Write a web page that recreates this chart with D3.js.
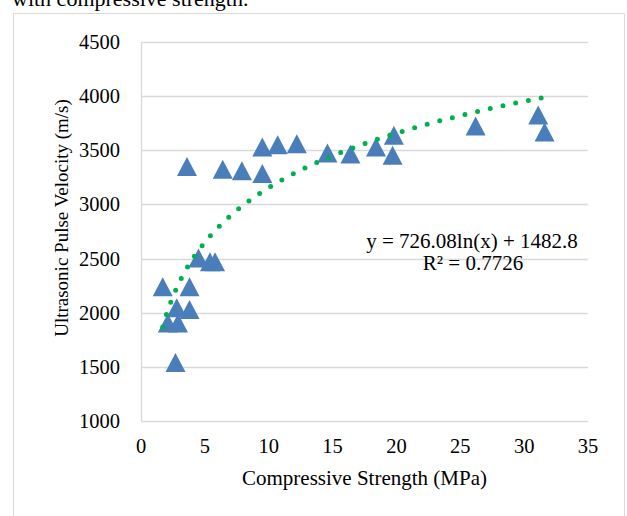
<!DOCTYPE html>
<html>
<head>
<meta charset="utf-8">
<script src="https://cdn.jsdelivr.net/npm/d3@7"></script>
<style>
  body { margin: 0; background: #fff; }
  svg text { font-family: "Liberation Serif", "Times New Roman", serif; fill: #000; }
</style>
</head>
<body>
<div id="chart"></div>
<script>
// compressive strength (MPa) vs ultrasonic pulse velocity (m/s)
const strength = [1.7, 3.6, 2.7, 2.1, 2.9, 2.8, 3.8, 3.8, 4.5, 5.4, 5.8, 6.4, 7.9, 9.5, 9.5, 10.7, 12.2, 14.6, 16.4, 18.4, 19.8, 19.7, 26.2, 31.1, 31.6];
const velocity = [2240, 3350, 1540, 1905, 1905, 2045, 2030, 2240, 2505, 2470, 2470, 3325, 3310, 3285, 3530, 3550, 3560, 3475, 3465, 3530, 3640, 3455, 3725, 3825, 3670];
const xTicks = [0, 5, 10, 15, 20, 25, 30, 35];
const yTicks = [1000, 1500, 2000, 2500, 3000, 3500, 4000, 4500];
const fitA = 726.08, fitB = 1482.8;

const W = 627, H = 516;
const svg = d3.select("#chart").append("svg")
    .attr("width", W)
    .attr("height", H);

// caption line cut off by the crop
svg.append("text")
    .attr("x", 12).attr("y", 6)
    .style("font-size", "22px")
    .text("with compressive strength.");

// chart area border
svg.append("rect")
    .attr("x", 13.5).attr("y", 13.5)
    .attr("width", 611).attr("height", 520)
    .attr("fill", "none")
    .attr("stroke", "#d9d9d9");

let x = d3.scaleLinear().domain([0, 35]).range([141, 588]);
let y = d3.scaleLinear().domain([1000, 4500]).range([421, 42]);

// gridlines
svg.append("g").selectAll("line")
    .data(yTicks)
    .enter().append("line")
    .attr("x1", x(0)).attr("x2", x(35))
    .attr("y1", d => Math.round(y(d)) + 0.5)
    .attr("y2", d => Math.round(y(d)) + 0.5)
    .attr("stroke", "#d9d9d9")
    .attr("stroke-width", 1.3);

// left axis line
svg.append("line")
    .attr("x1", x(0) + 0.5).attr("x2", x(0) + 0.5)
    .attr("y1", y(4500)).attr("y2", y(1000))
    .attr("stroke", "#d9d9d9")
    .attr("stroke-width", 1.3);

// tick labels
svg.append("g").selectAll("text")
    .data(yTicks)
    .enter().append("text")
    .attr("x", 120)
    .attr("y", d => y(d) + 7)
    .attr("text-anchor", "end")
    .style("font-size", "20.5px")
    .text(d => d);

svg.append("g").selectAll("text")
    .data(xTicks)
    .enter().append("text")
    .attr("x", d => x(d))
    .attr("y", 453)
    .attr("text-anchor", "middle")
    .style("font-size", "20.5px")
    .text(d => d);

// axis titles
svg.append("text")
    .attr("x", (x(0) + x(35)) / 2)
    .attr("y", 485)
    .attr("text-anchor", "middle")
    .style("font-size", "21px")
    .text("Compressive Strength (MPa)");

svg.append("text")
    .attr("transform", "translate(68,218) rotate(-90)")
    .attr("text-anchor", "middle")
    .style("font-size", "19px")
    .text("Ultrasonic Pulse Velocity (m/s)");

// markers
let points = strength.map((s, i) => ({ s: s, v: velocity[i] }));
let tri = "M0,-9.5L10,9.5L-10,9.5Z";

svg.append("g").selectAll("path")
    .data(points)
    .enter().append("path")
    .attr("d", tri)
    .attr("transform", d => "translate(" + x(d.s) + "," + y(d.v) + ")")
    .attr("fill", "#4a7ebb");

// logarithmic trendline, dotted
let xMin = d3.min(strength), xMax = d3.max(strength);
let fit = d3.range(0, 201).map(i => {
    let s = xMin + (xMax - xMin) * i / 200;
    return { s: s, v: fitA * Math.log(s) + fitB };
});

svg.append("path")
    .datum(fit)
    .attr("d", d3.line().x(d => x(d.s)).y(d => y(d.v)))
    .attr("fill", "none")
    .attr("stroke", "#00b050")
    .attr("stroke-width", 5)
    .attr("stroke-linecap", "round")
    .attr("stroke-dasharray", "0,13");

// equation label
svg.append("text")
    .attr("x", 472).attr("y", 248)
    .attr("text-anchor", "middle")
    .style("font-size", "21px")
    .text("y = 726.08ln(x) + 1482.8");

svg.append("text")
    .attr("x", 473).attr("y", 270)
    .attr("text-anchor", "middle")
    .style("font-size", "21px")
    .text("R² = 0.7726");
</script>
</body>
</html>
